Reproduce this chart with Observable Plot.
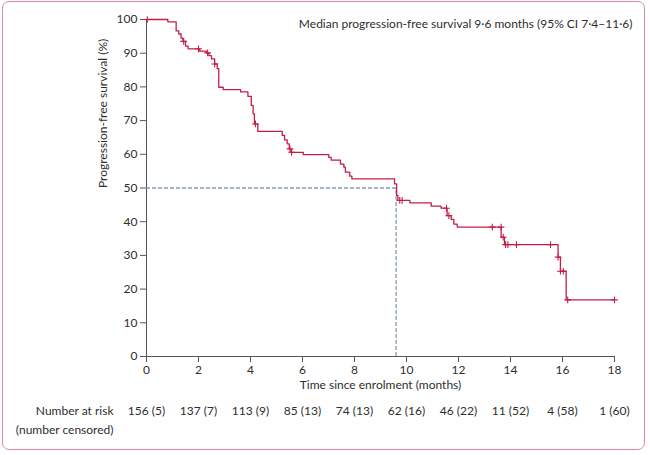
<!DOCTYPE html>
<html><head><meta charset="utf-8">
<script src="https://cdn.jsdelivr.net/npm/d3@7"></script>
<script src="https://cdn.jsdelivr.net/npm/@observablehq/plot@0.6"></script>
<style>
body{margin:0;background:#fff;}
#frame{position:absolute;left:2px;top:1px;width:641px;height:447px;border:1.5px solid #dc8c9e;border-radius:7px;}
#chart{position:absolute;left:0;top:0;}
</style></head><body>
<div id="frame"></div><div id="chart"></div>
<script>
// Kaplan-Meier step points (time in months, survival %)
const stepTimes = [0, 0.82, 1.14, 1.24, 1.33, 1.40, 1.50, 1.60, 2.05, 2.30, 2.40, 2.50, 2.62, 2.72, 2.78, 2.95, 3.62, 3.90, 4.03, 4.10, 4.15, 4.28, 5.22, 5.31, 5.41, 5.49, 5.56, 6.03, 7.01, 7.10, 7.46, 7.59, 7.65, 7.82, 7.90, 9.54, 9.62, 9.67, 10.13, 10.95, 11.33, 11.56, 11.72, 11.82, 11.95, 13.64, 13.77, 15.83, 15.92, 16.14, 18];
const stepSurvival = [100, 99.3, 96.6, 95.7, 94.5, 93.5, 92.1, 91.3, 90.6, 90.1, 89.3, 88.3, 86.8, 85.4, 79.9, 79.2, 78.5, 77.2, 74.5, 72.0, 69.0, 66.8, 65.6, 64.3, 63.1, 61.6, 60.6, 59.9, 59.1, 58.3, 57.1, 56.2, 54.7, 53.5, 52.7, 51.2, 47.8, 46.3, 45.6, 44.6, 44.0, 41.8, 40.7, 39.3, 38.4, 35.4, 33.2, 29.5, 25.3, 16.8, 16.8];
// Censored observations
const censorTimes = [0.03, 1.43, 2.0, 2.35, 2.62, 4.19, 5.52, 5.58, 9.74, 9.83, 11.54, 11.63, 13.30, 13.64, 13.72, 13.81, 13.90, 14.23, 15.54, 15.83, 15.92, 16.03, 16.20, 18];
const censorSurvival = [100, 93.5, 91.3, 90.1, 86.8, 69.0, 61.6, 60.6, 46.3, 46.3, 44.0, 41.8, 38.4, 38.4, 35.4, 33.2, 33.2, 33.2, 33.2, 29.5, 25.3, 25.3, 16.8, 16.8];
// Median
const medianTime = 9.6;
const medianSurvival = 50;
// Axes
const xTicks = [0, 2, 4, 6, 8, 10, 12, 14, 16, 18];
const yTicks = [0, 10, 20, 30, 40, 50, 60, 70, 80, 90, 100];
const atRisk = [156, 137, 113, 85, 74, 62, 46, 11, 4, 1];
const censoredCounts = [5, 7, 9, 13, 13, 16, 22, 52, 58, 60];

const steps = stepTimes.map((t, i) => ({t, s: stepSurvival[i]}));
const censors = censorTimes.map((t, i) => ({t, s: censorSurvival[i]}));
const medianPath = [{t: 0, s: medianSurvival}, {t: medianTime, s: medianSurvival}, {t: medianTime, s: 0}];
const riskRow = xTicks.map((t, i) => ({t, label: `${atRisk[i]} (${censoredCounts[i]})`}));

const red = "#c41e46";
const ink = "#2e2e2e";

const plot = Plot.plot({
  width: 650,
  height: 455,
  marginLeft: 146,
  marginRight: 36,
  marginTop: 19,
  marginBottom: 99,
  style: {fontFamily: "Lato, sans-serif", fontSize: "12px", color: ink, background: "transparent"},
  x: {domain: [0, 18]},
  y: {domain: [0, 100]},
  marks: [
    Plot.axisX({ticks: xTicks, tickSize: 6, tickPadding: 3, label: null, stroke: "#555", fontSize: 12}),
    Plot.axisY({ticks: yTicks, tickSize: 6, tickPadding: 3, label: null, stroke: "#555", fontSize: 12}),
    Plot.ruleX([0], {stroke: "#555", strokeWidth: 1}),
    Plot.ruleY([0], {stroke: "#555", strokeWidth: 1}),
    Plot.line(medianPath, {x: "t", y: "s", stroke: "#7f9aaa", strokeWidth: 1.3, strokeDasharray: "3,3"}),
    Plot.line(steps, {x: "t", y: "s", curve: "step-after", stroke: red, strokeWidth: 1.3}),
    Plot.dot(censors, {x: "t", y: "s", symbol: "plus", r: 2.3, stroke: red, strokeWidth: 1.1}),
    Plot.text(["Median progression-free survival 9·6 months (95% CI 7·4–11·6)"], {frameAnchor: "top-right", dx: 18, textAnchor: "end", fill: ink, fontSize: 12}),
    Plot.text(["Time since enrolment (months)"], {frameAnchor: "bottom", dy: 32, fill: ink, fontSize: 12}),
    Plot.text(["Progression-free survival (%)"], {frameAnchor: "left", dx: -43, rotate: -90, fill: ink, fontSize: 12}),
    Plot.text(riskRow, {x: "t", text: "label", frameAnchor: "bottom", dy: 58, fill: ink, fontSize: 12}),
    Plot.text(["Number at risk"], {frameAnchor: "bottom-left", dx: -33, dy: 58, textAnchor: "end", fill: ink, fontSize: 12}),
    Plot.text(["(number censored)"], {frameAnchor: "bottom-left", dx: -33, dy: 77, textAnchor: "end", fill: ink, fontSize: 12})
  ]
});
document.getElementById("chart").append(plot);
</script>
</body></html>
